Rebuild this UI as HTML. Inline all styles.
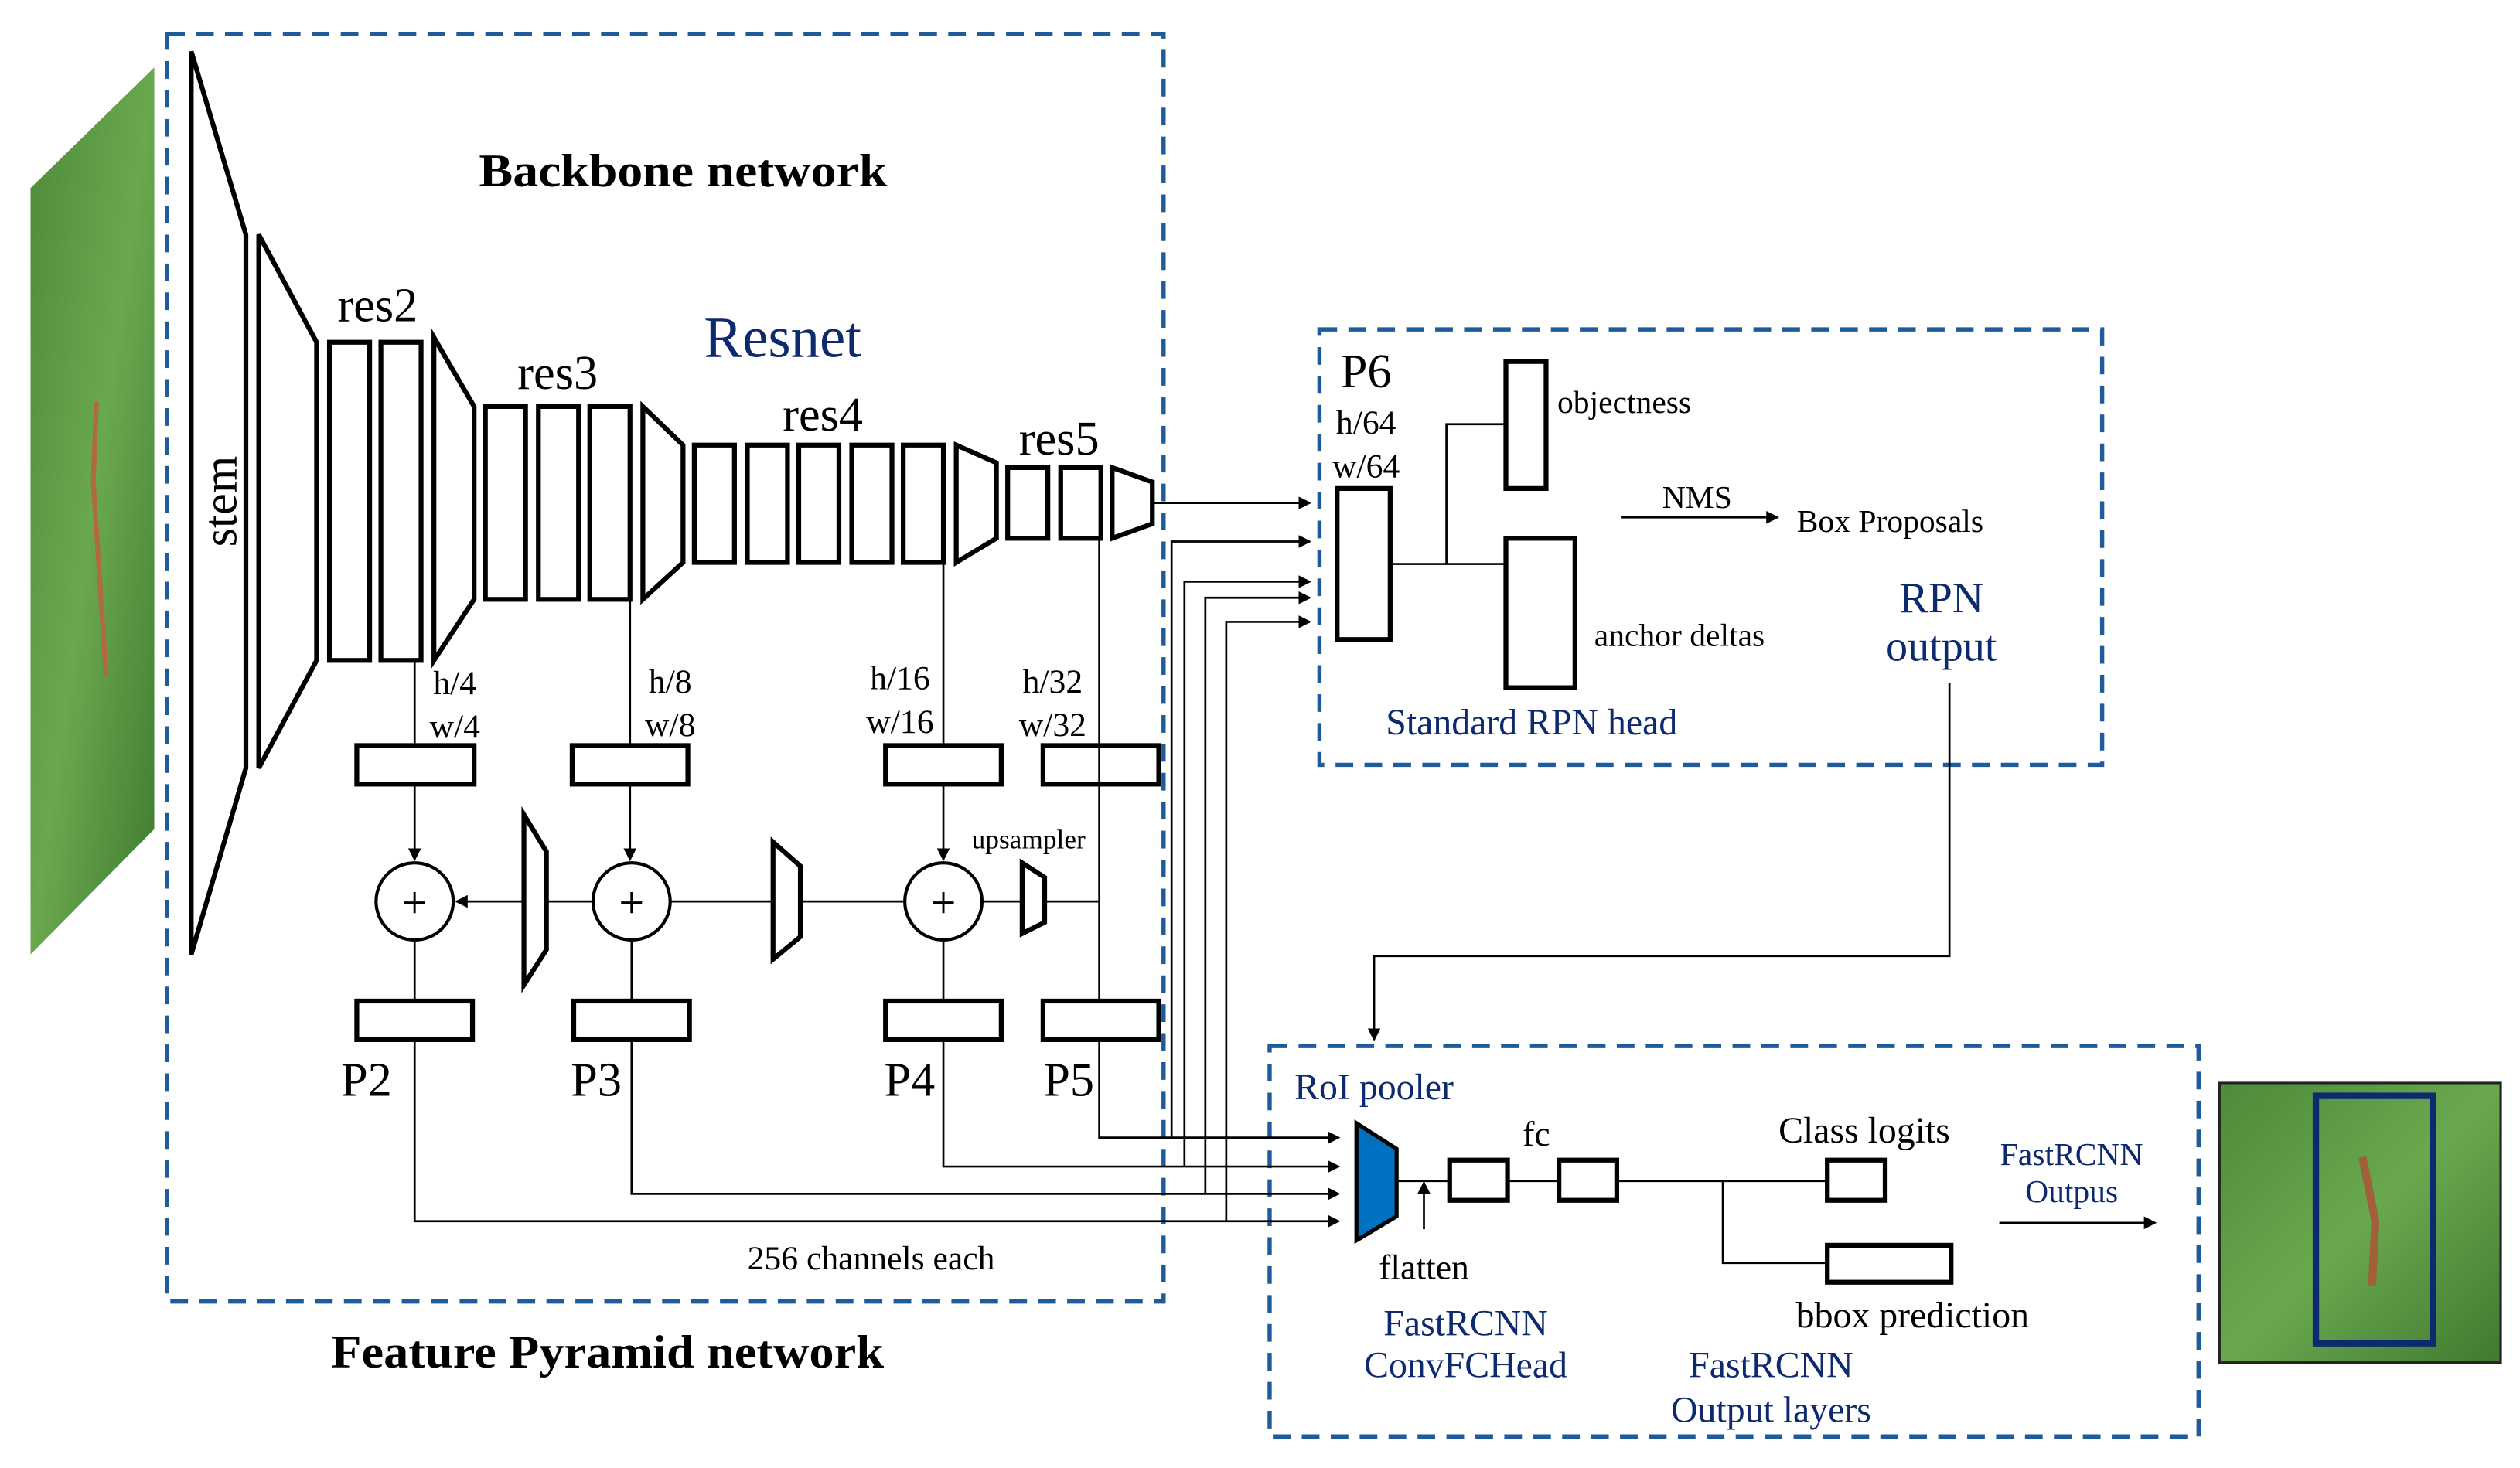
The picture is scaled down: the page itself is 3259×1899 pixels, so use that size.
<!DOCTYPE html>
<html><head><meta charset="utf-8"><style>
html,body{margin:0;padding:0;background:#fff;}
svg{display:block;}
text{font-family:"Liberation Serif",serif;fill:#000;}
.b{fill:#0d2a6e;}
</style></head><body>
<svg width="3259" height="1899" viewBox="0 0 1568 913.6" preserveAspectRatio="none" xmlns="http://www.w3.org/2000/svg">
<defs>
<marker id="a" markerWidth="8" markerHeight="8" refX="7" refY="4" orient="auto" markerUnits="userSpaceOnUse"><path d="M0,0 L8,4 L0,8 z" fill="#000"/></marker>
<linearGradient id="g" x1="0" y1="0" x2="1" y2="1"><stop offset="0" stop-color="#4d8a3a"/><stop offset="0.5" stop-color="#6aa84f"/><stop offset="1" stop-color="#3f7a30"/></linearGradient>
</defs>
<polygon points="19,117 96,42 96,516 19,594" fill="url(#g)"/>
<path d="M60,250 L58,300 L62,360 L66,420" stroke="#b06a40" stroke-width="3" fill="none"/>
<g fill="none" stroke="#1f5a9a" stroke-width="2.6" stroke-dasharray="11,7">
<rect x="104" y="21" width="620" height="789"/>
<rect x="821" y="205" width="487" height="271"/>
<rect x="790" y="651" width="578" height="243"/>
</g>
<text x="425" y="116" font-size="29" font-weight="bold" text-anchor="middle" textLength="254" lengthAdjust="spacingAndGlyphs">Backbone network</text>
<text x="378" y="851" font-size="29" font-weight="bold" text-anchor="middle" textLength="344" lengthAdjust="spacingAndGlyphs">Feature Pyramid network</text>
<text class="b" x="487" y="222" font-size="36" text-anchor="middle">Resnet</text>
<g fill="none" stroke="#000" stroke-width="3">
<polygon points="119,32 153,146 153,478 119,594"/>
<polygon points="161,146 197,213 197,411 161,478"/>
<rect x="205" y="213" width="25" height="198"/><rect x="237" y="213" width="25" height="198"/>
<polygon points="270,210 295,253 295,373 270,411"/>
<rect x="302" y="253" width="25" height="120"/><rect x="335" y="253" width="25" height="120"/><rect x="367" y="253" width="25" height="120"/>
<polygon points="400,253 425,277 425,350 400,373"/>
<rect x="432" y="277" width="25" height="73"/><rect x="465" y="277" width="25" height="73"/><rect x="497" y="277" width="25" height="73"/><rect x="530" y="277" width="25" height="73"/><rect x="562" y="277" width="25" height="73"/>
<polygon points="595,277 620,288 620,335 595,350"/>
<rect x="627" y="291" width="25" height="44"/><rect x="660" y="291" width="25" height="44"/>
<polygon points="692,291 717,300 717,326 692,335"/>
<rect x="222" y="464" width="73" height="24"/><rect x="356" y="464" width="72" height="24"/><rect x="551" y="464" width="72" height="24"/><rect x="649" y="464" width="72" height="24"/>
<rect x="222" y="623" width="72" height="24"/><rect x="357" y="623" width="72" height="24"/><rect x="551" y="623" width="72" height="24"/><rect x="649" y="623" width="72" height="24"/>
<polygon points="326,507 340,530 340,591 326,613"/>
<polygon points="481,524 498,539 498,583 481,597"/>
<polygon points="636,537 650,546 650,574 636,581"/>
<rect x="832" y="304" width="33" height="94"/>
<rect x="937" y="225" width="25" height="79"/>
<rect x="937" y="335" width="43" height="93"/>
<rect x="902" y="722" width="36" height="25"/><rect x="970" y="722" width="36" height="25"/>
<rect x="1137" y="722" width="36" height="25"/><rect x="1137" y="775" width="77" height="23"/>
</g>
<g fill="#fff" stroke="#000" stroke-width="2">
<circle cx="258" cy="561" r="24"/><circle cx="393" cy="561" r="24"/><circle cx="587" cy="561" r="24"/>
</g>
<g font-size="28" text-anchor="middle">
<text x="258" y="571">+</text><text x="393" y="571">+</text><text x="587" y="571">+</text>
</g>
<text x="140" y="312" font-size="30" text-anchor="middle" transform="rotate(-90 140 312)" dominant-baseline="middle">stem</text>
<g font-size="30" text-anchor="middle">
<text x="235" y="200">res2</text><text x="347" y="242">res3</text><text x="512" y="268">res4</text><text x="659" y="283">res5</text>
<text x="228" y="682">P2</text><text x="371" y="682">P3</text><text x="566" y="682">P4</text><text x="665" y="682">P5</text>
<text x="850" y="241">P6</text>
</g>
<g font-size="21" text-anchor="middle">
<text x="283" y="432">h/4</text><text x="283" y="459">w/4</text>
<text x="417" y="431">h/8</text><text x="417" y="458">w/8</text>
<text x="560" y="429">h/16</text><text x="560" y="456">w/16</text>
<text x="655" y="431">h/32</text><text x="655" y="458">w/32</text>
<text x="850" y="270">h/64</text><text x="850" y="297">w/64</text>
</g>
<text x="640" y="528" font-size="17" text-anchor="middle">upsampler</text>
<text x="542" y="790" font-size="21" text-anchor="middle">256 channels each</text>
<g fill="none" stroke="#000" stroke-width="1.3">
<path d="M258,411 V464 M392,373 V464 M587,350 V464 M684,335 V623"/>
<path d="M258,488 V535" marker-end="url(#a)"/><path d="M392,488 V535" marker-end="url(#a)"/><path d="M587,488 V535" marker-end="url(#a)"/>
<path d="M684,561 H650 M636,561 H611 M563,561 H498 M481,561 H417 M369,561 H340"/>
<path d="M326,561 H284" marker-end="url(#a)"/>
<path d="M258,585 V623 M393,585 V623 M587,585 V623"/>
<path d="M717,313 H815" marker-end="url(#a)"/>
<path d="M729,708 V337 H815" marker-end="url(#a)"/>
<path d="M737,726 V362 H815" marker-end="url(#a)"/>
<path d="M750,743 V372 H815" marker-end="url(#a)"/>
<path d="M763,760 V387 H815" marker-end="url(#a)"/>
<path d="M684,647 V708 H833" marker-end="url(#a)"/>
<path d="M587,647 V726 H833" marker-end="url(#a)"/>
<path d="M393,647 V743 H833" marker-end="url(#a)"/>
<path d="M258,647 V760 H833" marker-end="url(#a)"/>
<path d="M865,351 H937 M900,351 V264 H937"/>
<path d="M1009,322 H1106" marker-end="url(#a)"/>
<path d="M1213,425 V595 H855 V647" marker-end="url(#a)"/>
<path d="M869,735 H902 M938,735 H970 M1006,735 H1137 M1072,735 V786 H1137"/>
<path d="M886,765 V736" marker-end="url(#a)"/>
<path d="M1244,761 H1341" marker-end="url(#a)"/>
</g>
<polygon points="844,699 869,715 869,757 844,772" fill="#0070c0" stroke="#000" stroke-width="2.5"/>
<g font-size="20">
<text x="969" y="257">objectness</text>
<text x="992" y="402">anchor deltas</text>
<text x="1056" y="316" text-anchor="middle">NMS</text>
<text x="1118" y="331">Box Proposals</text>
<text x="956" y="713" font-size="22" text-anchor="middle">fc</text>
<text x="886" y="796" font-size="22" text-anchor="middle">flatten</text>
<text x="1160" y="711" font-size="23" text-anchor="middle">Class logits</text>
<text x="1190" y="826" font-size="23" text-anchor="middle">bbox prediction</text>
</g>
<g text-anchor="middle">
<text class="b" x="1208" y="381" font-size="27">RPN</text>
<text class="b" x="1208" y="411" font-size="27">output</text>
<text class="b" x="953" y="457" font-size="23">Standard RPN head</text>
<text class="b" x="855" y="684" font-size="23">RoI pooler</text>
<text class="b" x="912" y="831" font-size="23">FastRCNN</text>
<text class="b" x="912" y="857" font-size="23">ConvFCHead</text>
<text class="b" x="1102" y="857" font-size="23">FastRCNN</text>
<text class="b" x="1102" y="885" font-size="23">Output layers</text>
<text class="b" x="1289" y="725" font-size="20">FastRCNN</text>
<text class="b" x="1289" y="748" font-size="20">Outpus</text>
</g>
<rect x="1381" y="674" width="175" height="174" fill="url(#g)" stroke="#222" stroke-width="1.5"/>
<path d="M1470,720 L1478,760 L1476,800" stroke="#a0603a" stroke-width="5" fill="none"/>
<rect x="1441" y="682" width="73" height="154" fill="none" stroke="#0d2a6e" stroke-width="4"/>
</svg>
</body></html>
